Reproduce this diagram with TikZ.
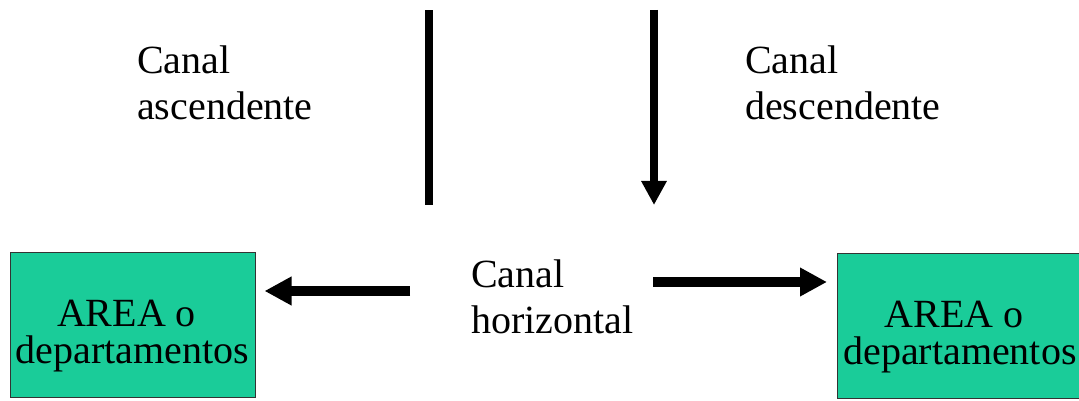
\documentclass[tikz,border=0pt]{standalone}
\usepackage{fontspec}
\setmainfont{Liberation Serif}
\usetikzlibrary{arrows.meta}
\definecolor{boxgreen}{RGB}{26,204,153}
\tikzset{
  lbl/.style={anchor=north west, inner sep=0pt, align=left, font=\fontsize{40}{46}\selectfont},
  areabox/.style={draw=black!80, line width=1pt, fill=boxgreen, minimum width=245pt, minimum height=145pt, inner sep=0pt},
  areatext/.style={inner sep=0pt, align=center, font=\fontsize{40}{37}\selectfont},
  vline/.style={line width=7.5pt},
  hline/.style={line width=10pt},
  vtip/.style={-{Triangle[length=24pt,width=24pt]}},
  htip/.style={-{Triangle[length=27pt,width=27pt]}}
}
\begin{document}
\begin{tikzpicture}[x=1pt,y=1pt]
\useasboundingbox (0,0) rectangle (1079,401);
% text labels
\node[lbl] (asc) at (137,355.3) {Canal\\ascendente};
\node[lbl] (desc) at (745,355.3) {Canal\\descendente};
\node[lbl] (hor) at (471,141.3) {Canal\\horizontal};
% boxes
\node[areabox] (boxL) at (132.5,75.5) {};
\node[areatext] (txtL) at ([yshift=-11pt]boxL.center) {AREA o\hspace*{12pt}\\departamentos};
\node[areabox] (boxR) at (960,74.5) {};
\node[areatext] (txtR) at ([yshift=-11pt]boxR.center) {AREA o\hspace*{12pt}\\departamentos};
% vertical channels
\coordinate (upTop) at (429,391);
\coordinate (upBot) at (429,196);
\coordinate (downTop) at (654,391);
\coordinate (downBot) at (654,196);
\draw[vline] (upBot) -- (upTop);
\draw[vline,vtip] (downTop) -- (downBot);
% horizontal channels
\coordinate (hlStart) at (410,110);
\coordinate (hlEnd) at ([xshift=9pt]boxL.east |- hlStart);
\coordinate (hrStart) at (653,119);
\coordinate (hrEnd) at ([xshift=-10pt]boxR.west |- hrStart);
\draw[hline,htip] (hlStart) -- (hlEnd);
\draw[hline,htip] (hrStart) -- (hrEnd);
\end{tikzpicture}
\end{document}
